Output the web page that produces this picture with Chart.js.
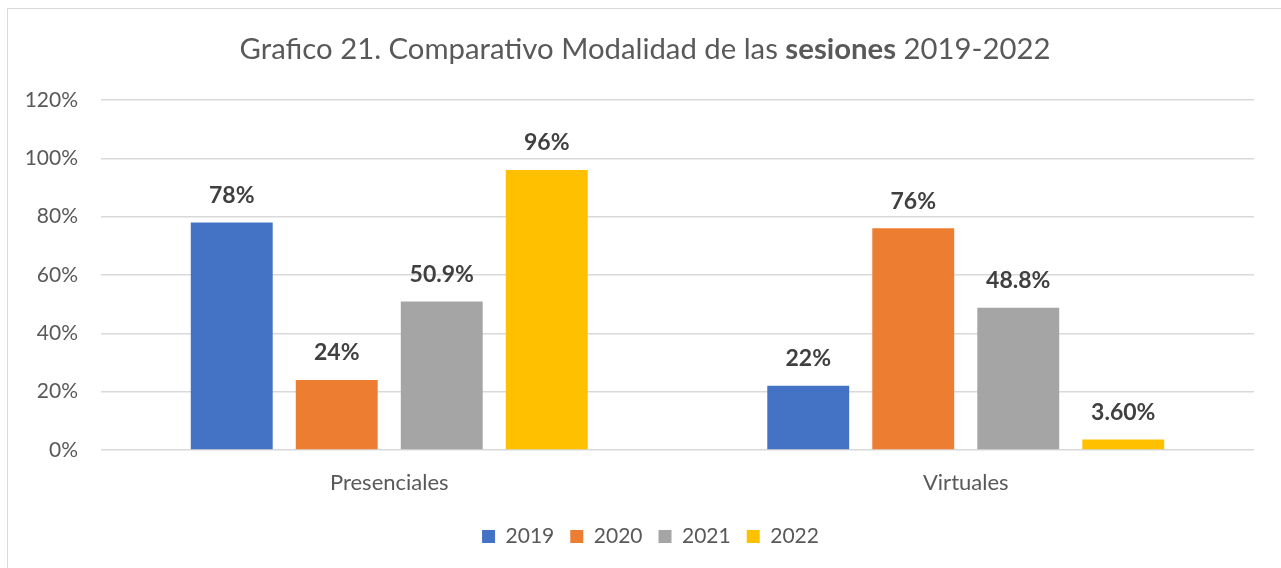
<!DOCTYPE html>
<html>
<head>
<meta charset="utf-8">
<script src="https://cdn.jsdelivr.net/npm/chart.js@4.4.1/dist/chart.umd.min.js"></script>
<style>
  html, body { margin: 0; padding: 0; background: #ffffff; }
  #wrap { width: 1281px; height: 568px; position: relative; }
</style>
</head>
<body>
<div id="wrap"><canvas id="c" width="1281" height="568"></canvas></div>
<script>
const categories = ["Presenciales", "Virtuales"];
const seriesNames = ["2019", "2020", "2021", "2022"];
const values2019 = [78, 22];
const values2020 = [24, 76];
const values2021 = [50.9, 48.8];
const values2022 = [96, 3.6];
const labels2019 = ["78%", "22%"];
const labels2020 = ["24%", "76%"];
const labels2021 = ["50.9%", "48.8%"];
const labels2022 = ["96%", "3.60%"];
const yTicks = [0, 20, 40, 60, 80, 100, 120];
const titleParts = [
  { text: "Grafico 21. Comparativo Modalidad de las ", bold: false },
  { text: "sesiones", bold: true },
  { text: " 2019-2022", bold: false }
];

const colors = ["#4472C4", "#ED7D31", "#A5A5A5", "#FFC000"];
const FONT = "Lato, 'Open Sans', sans-serif";

const seriesValues = [values2019, values2020, values2021, values2022];
const seriesLabels = [labels2019, labels2020, labels2021, labels2022];

const frameAndTitle = {
  id: 'frameAndTitle',
  afterLayout(chart) {
    const lg = chart.legend;
    if (lg) { lg.left += 20; lg.right += 20; }
  },
  beforeDraw(chart) {
    const ctx = chart.ctx;
    ctx.save();
    ctx.fillStyle = '#ffffff';
    ctx.fillRect(0, 0, chart.width, chart.height);
    ctx.strokeStyle = '#d9d9d9';
    ctx.lineWidth = 1;
    ctx.strokeRect(7.5, 8.5, chart.width + 10, chart.height + 10);
    ctx.restore();
  },
  afterDraw(chart) {
    const ctx = chart.ctx;
    ctx.save();
    ctx.fillStyle = '#595959';
    ctx.textBaseline = 'alphabetic';
    const size = 29.3;
    let total = 0;
    const widths = titleParts.map(p => {
      ctx.font = (p.bold ? 'bold ' : '') + size + 'px ' + FONT;
      const w = ctx.measureText(p.text).width;
      total += w;
      return w;
    });
    let x = 645 - total / 2;
    titleParts.forEach((p, i) => {
      ctx.font = (p.bold ? 'bold ' : '') + size + 'px ' + FONT;
      ctx.textAlign = 'left';
      ctx.fillText(p.text, x, 59);
      x += widths[i];
    });
    ctx.restore();
  }
};

const dataLabels = {
  id: 'dataLabels',
  afterDatasetsDraw(chart) {
    const ctx = chart.ctx;
    ctx.save();
    ctx.font = 'bold 23px ' + FONT;
    ctx.fillStyle = '#404040';
    ctx.textAlign = 'center';
    ctx.textBaseline = 'middle';
    chart.data.datasets.forEach((ds, di) => {
      const meta = chart.getDatasetMeta(di);
      meta.data.forEach((bar, i) => {
        ctx.fillText(seriesLabels[di][i], bar.x, bar.y - 27);
      });
    });
    ctx.restore();
  }
};

new Chart(document.getElementById('c'), {
  type: 'bar',
  data: {
    labels: categories,
    datasets: seriesNames.map((name, i) => ({
      label: name,
      data: seriesValues[i],
      backgroundColor: colors[i],
      borderWidth: 0,
      categoryPercentage: 0.7286,
      barPercentage: 0.78
    }))
  },
  options: {
    responsive: false,
    animation: false,
    devicePixelRatio: 1,
    layout: { padding: { left: 7, right: 27, top: 100, bottom: 11 } },
    plugins: {
      title: { display: false },
      tooltip: { enabled: false },
      legend: {
        position: 'bottom',
        labels: {
          color: '#595959',
          font: { family: FONT, size: 21 },
          boxWidth: 13,
          boxHeight: 13,
          padding: 16
        }
      }
    },
    scales: {
      x: {
        grid: { display: false, drawTicks: false },
        border: { display: false },
        ticks: { color: '#595959', font: { family: FONT, size: 22 }, padding: 20 },
        afterFit(scale) { scale.height = 60; }
      },
      y: {
        min: 0,
        max: 120,
        afterBuildTicks(scale) { scale.ticks = yTicks.map(v => ({ value: v })); },
        ticks: {
          color: '#595959',
          font: { family: FONT, size: 21 },
          padding: 23,
          callback: v => v + '%'
        },
        grid: { color: '#d9d9d9', lineWidth: 1.5, drawTicks: false },
        border: { display: false },
        afterFit(scale) { scale.width = 94; }
      }
    }
  },
  plugins: [frameAndTitle, dataLabels]
});
</script>
</body>
</html>
